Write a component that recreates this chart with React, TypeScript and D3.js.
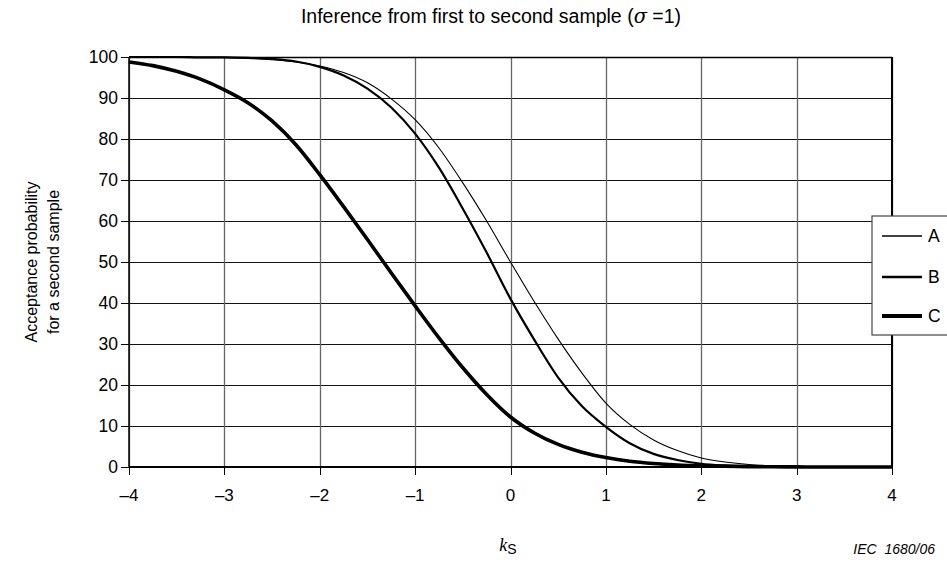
import React from 'react';
import * as d3 from 'd3';

const kValues = [-4, -3.75, -3.5, -3.25, -3, -2.75, -2.5, -2.25, -2, -1.75, -1.5, -1.25, -1, -0.75, -0.5, -0.25, 0, 0.25, 0.5, 0.75, 1, 1.25, 1.5, 1.75, 2, 2.25, 2.5, 2.75, 3, 3.25, 3.5, 3.75, 4];
const seriesA = [100, 100, 100, 99.9, 99.9, 99.7, 99.4, 98.8, 97.8, 96.2, 93.7, 89.8, 84.7, 77.8, 69.3, 60.0, 50.0, 40.3, 31.2, 22.9, 15.6, 10.4, 6.6, 4.0, 2.2, 1.2, 0.6, 0.3, 0.1, 0.1, 0, 0, 0];
const seriesB = [100, 100, 100, 99.9, 99.9, 99.8, 99.5, 98.9, 97.6, 95.5, 92.3, 87.7, 81.3, 73.0, 63.0, 52.3, 41.0, 31.0, 21.8, 14.8, 9.8, 5.8, 3.2, 1.7, 0.8, 0.4, 0.2, 0.1, 0, 0, 0, 0, 0];
const seriesC = [98.8, 97.9, 96.5, 94.6, 92.0, 88.8, 84.4, 78.6, 71.3, 63.5, 55.5, 47.3, 39.3, 31.5, 24.2, 17.7, 12.2, 8.3, 5.5, 3.6, 2.3, 1.4, 0.85, 0.5, 0.3, 0.18, 0.1, 0.05, 0.03, 0, 0, 0, 0];
const seriesNames = ['A', 'B', 'C'];
const xTicks = [-4, -3, -2, -1, 0, 1, 2, 3, 4];
const xTickLabels = ['\u20134', '\u20133', '\u20132', '\u20131', '0', '1', '2', '3', '4'];
const yTicks = [0, 10, 20, 30, 40, 50, 60, 70, 80, 90, 100];

const W = 947, H = 567;
const X0 = 129, X1 = 892, Y0 = 57, Y1 = 467;
const FONT = 'Liberation Sans, Arial, sans-serif';

export default function App() {
  const x = d3.scaleLinear().domain([-4, 4]).range([X0, X1]);
  const y = d3.scaleLinear().domain([0, 100]).range([Y1, Y0]);
  const series = [seriesA, seriesB, seriesC];
  const widths = [1.1, 2.2, 3.6];
  const line = (vals: number[]) =>
    d3.line<number>().x((_, i) => x(kValues[i])).y((v) => y(v)).curve(d3.curveMonotoneX)(vals) || '';

  const legX = 872, legY = 216, legH = 119;
  const legRows = [236, 277, 316];

  return (
    <svg width={W} height={H} style={{ position: 'absolute', left: 0, top: 0, background: '#fff' }} fontFamily={FONT}>
      <rect x={0} y={0} width={W} height={H} fill="#fff" />
      {yTicks.map((t) => (
        <line key={'gy' + t} x1={X0} x2={X1} y1={Math.round(y(t)) + 0.5} y2={Math.round(y(t)) + 0.5} stroke="#111" strokeWidth={1} />
      ))}
      {xTicks.map((t) => (
        <line key={'gx' + t} x1={Math.round(x(t)) + 0.5} x2={Math.round(x(t)) + 0.5} y1={Y0} y2={Y1} stroke="#666" strokeWidth={1.3} />
      ))}
      <line x1={X0} x2={X1} y1={Y0 + 0.5} y2={Y0 + 0.5} stroke="#000" strokeWidth={1.5} />
      <line x1={X1} x2={X1} y1={Y0} y2={Y1} stroke="#000" strokeWidth={2} />
      <line x1={X0} x2={X0} y1={Y0} y2={Y1} stroke="#000" strokeWidth={1.5} />
      <line x1={X0} x2={X1} y1={Y1} y2={Y1} stroke="#000" strokeWidth={2} />
      {yTicks.map((t) => (
        <g key={'ty' + t}>
          <line x1={X0 - 8} x2={X0} y1={Math.round(y(t)) + 0.5} y2={Math.round(y(t)) + 0.5} stroke="#000" strokeWidth={1} />
          <text x={X0 - 11} y={y(t)} textAnchor="end" dominantBaseline="central" fontSize={17.5}>{t}</text>
        </g>
      ))}
      {xTicks.map((t, i) => (
        <g key={'tx' + t}>
          <line x1={Math.round(x(t)) + 0.5} x2={Math.round(x(t)) + 0.5} y1={Y1} y2={Y1 + 8} stroke="#000" strokeWidth={1} />
          <text x={x(t)} y={495} textAnchor="middle" dominantBaseline="central" fontSize={17}>{xTickLabels[i]}</text>
        </g>
      ))}
      {series.map((s, i) => (
        <path key={'s' + i} d={line(s)} fill="none" stroke="#000" strokeWidth={widths[i]} strokeLinejoin="round" />
      ))}
      <rect x={legX} y={legY} width={W - legX + 20} height={legH} fill="#fff" stroke="#444" strokeWidth={1.2} />
      {seriesNames.map((n, i) => (
        <g key={'l' + n}>
          <line x1={882} x2={922} y1={legRows[i]} y2={legRows[i]} stroke="#000" strokeWidth={widths[i] + 0.4} />
          <text x={928} y={legRows[i]} dominantBaseline="central" fontSize={17.5}>{n}</text>
        </g>
      ))}
      <text x={491} y={16} textAnchor="middle" dominantBaseline="central" fontSize={19.5}>
        Inference from first to second sample (<tspan fontStyle="italic" fontFamily="DejaVu Serif, serif">σ</tspan> =1)
      </text>
      <g transform="translate(31,262) rotate(-90)">
        <text x={0} y={0} textAnchor="middle" dominantBaseline="central" fontSize={16}>Acceptance probability</text>
      </g>
      <g transform="translate(53,262) rotate(-90)">
        <text x={0} y={0} textAnchor="middle" dominantBaseline="central" fontSize={16}>for a second sample</text>
      </g>
      <text x={508} y={545} textAnchor="middle" dominantBaseline="central" fontSize={18}>
        <tspan fontStyle="italic" fontFamily="Liberation Serif, Times New Roman, serif">k</tspan>
        <tspan fontSize={14} dy={4}>S</tspan>
      </text>
      <text x={935} y={549} textAnchor="end" dominantBaseline="central" fontSize={14} fontStyle="italic" style={{ whiteSpace: 'pre' }}>{'IEC  1680/06'}</text>
    </svg>
  );
}
